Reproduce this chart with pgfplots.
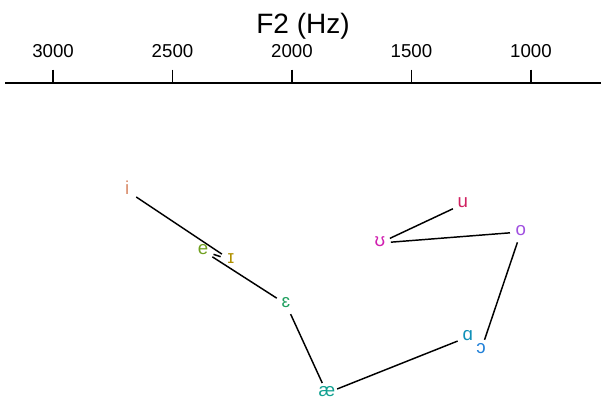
\documentclass[border=0pt]{standalone}
\usepackage{fontspec}
\setmainfont{Liberation Sans}
\usepackage{pgfplots}
\pgfplotsset{compat=1.18}
\definecolor{ci}{HTML}{D98C6A}
\definecolor{cI}{HTML}{B09000}
\definecolor{ce}{HTML}{70A020}
\definecolor{ceps}{HTML}{20A060}
\definecolor{cae}{HTML}{10A090}
\definecolor{calpha}{HTML}{1090B8}
\definecolor{copen}{HTML}{2080D8}
\definecolor{co}{HTML}{A050E0}
\definecolor{cU}{HTML}{D020B0}
\definecolor{cu}{HTML}{D02060}
\newcommand{\vlabel}[3]{%
  \addplot[draw=none, mark=none, nodes near coords={#1}, nodes near coords align=center,
    every node near coord/.append style={text=#2, anchor=base, yshift=-2.7pt, inner sep=0pt,
      font=\fontsize{14}{14}\selectfont}] coordinates {#3};}
\newcommand{\seg}[2]{%
  \addplot[black, line width=1.1pt, shorten >=8.25pt, shorten <=8.25pt] coordinates {#1 #2};}
\begin{document}
\begin{tikzpicture}
\path[use as bounding box] (0,0) rectangle (450.75pt,-301.5pt);
\begin{axis}[
  at={(3.75pt,-62.25pt)}, anchor=north west,
  scale only axis, width=447pt, height=239.25pt,
  x dir=reverse, y dir=reverse,
  xmin=707, xmax=3201, ymin=0, ymax=893,
  axis x line*=top, axis y line=none,
  axis line style={line width=1.1pt},
  xtick={1000,1500,2000,2500,3000},
  xtick align=outside, major tick length=10pt,
  xtick style={line width=1.1pt, black},
  /pgf/number format/assume math mode=true,
  /pgf/number format/set thousands separator={},
  xticklabel style={font=\fontsize{14}{14}\selectfont, anchor=base, yshift=8.8pt},
  xlabel={F2 (Hz)},
  xlabel style={font=\fontsize{21}{21}\selectfont, at={(axis description cs:0.5,1)}, anchor=base, yshift=37.5pt},
  clip=false,
]
% polygon segments (F2, F1)
\seg{(2690,302)}{(2255,496)}
\seg{(2255,496)}{(2372,470)}
\seg{(2372,470)}{(2025,619)}
\seg{(2025,619)}{(1854,868)}
\seg{(1854,868)}{(1264,711)}
\seg{(1209,748)}{(1042,417)}
\seg{(1042,417)}{(1632,448)}
\seg{(1632,448)}{(1285,339)}
% vowel labels
\vlabel{i}{ci}{(2690,302)}
\vlabel{ɪ}{cI}{(2255,496)}
\vlabel{e}{ce}{(2372,470)}
\vlabel{ɛ}{ceps}{(2025,619)}
\vlabel{æ}{cae}{(1854,868)}
\vlabel{ɑ}{calpha}{(1264,711)}
\vlabel{ɔ}{copen}{(1209,748)}
\vlabel{o}{co}{(1042,417)}
\vlabel{ʊ}{cU}{(1632,448)}
\vlabel{u}{cu}{(1285,339)}
\end{axis}
\end{tikzpicture}
\end{document}
